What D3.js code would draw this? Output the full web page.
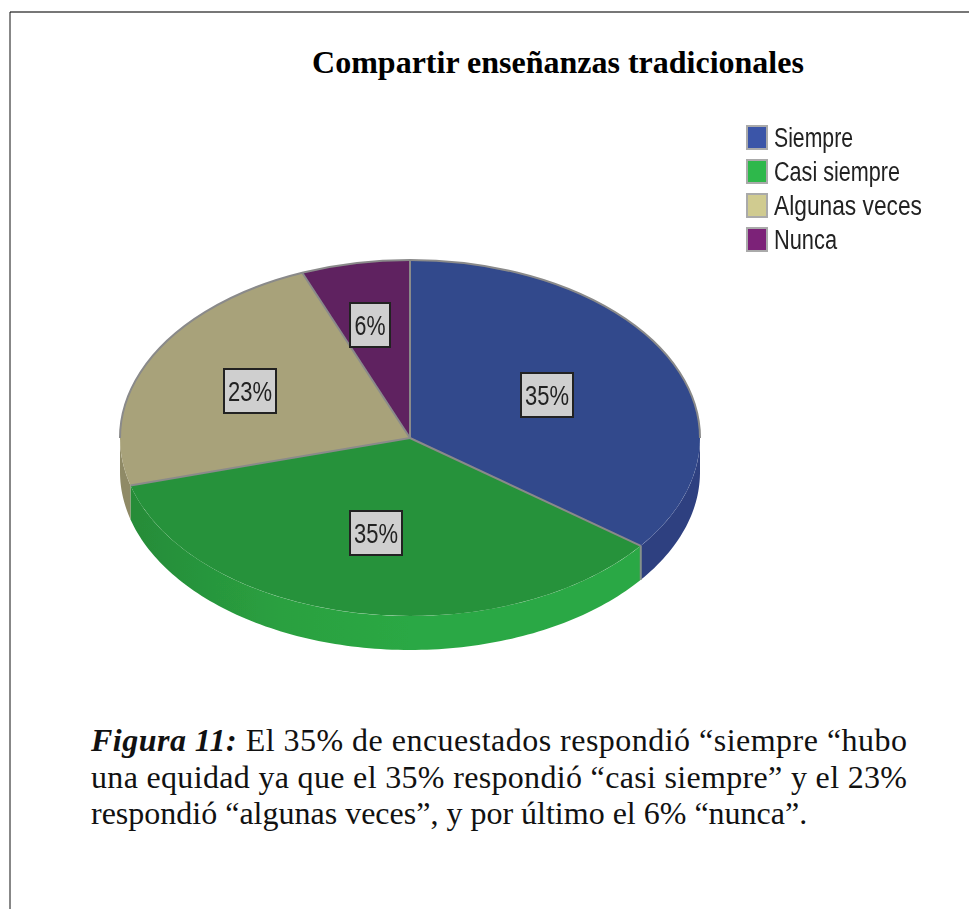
<!DOCTYPE html>
<html>
<head>
<meta charset="utf-8">
<script src="https://cdn.jsdelivr.net/npm/d3@7"></script>
<style>
  html, body { margin: 0; padding: 0; background: #fff; overflow: hidden; }
  svg { display: block; }
</style>
</head>
<body>
<div id="plot-area"></div>
<script>
// Pie chart (tilted, with a rim) of the survey answers

const categories = ["Siempre", "Casi siempre", "Algunas veces", "Nunca"];
const percents = [35, 35, 23, 6];
const title = "Compartir enseñanzas tradicionales";

const w = 969, h = 909;
const svg = d3.select("#plot-area").append("svg").attr("width", w).attr("height", h);

// page frame
svg.append("line").attr("x1", 10).attr("x2", w).attr("y1", 12).attr("y2", 12).
attr("stroke", "#777").attr("stroke-width", 2);
svg.append("line").attr("x1", 10).attr("x2", 10).attr("y1", 12).attr("y2", h).
attr("stroke", "#111").attr("stroke-width", 1);

svg.append("text").
attr("x", 558).
attr("y", 73).
attr("text-anchor", "middle").
attr("font-family", "Liberation Serif").
attr("font-weight", "bold").
attr("font-size", 32).
text(title);

// Pie geometry
const cx = 410, cy = 438, rx = 290, ry = 178, depth = 34;
const topFill = ["#31488c", "#27923b", "#a8a27a", "#5f2060"];
const rimFill = ["#2f4080", "url(#rim-green)", "#8f8a66", "#4c1a4d"];

const defs = svg.append("defs");
const rimGrad = defs.append("linearGradient").
attr("id", "rim-green").
attr("gradientUnits", "userSpaceOnUse").
attr("x1", cx - rx).attr("x2", cx).attr("y1", 0).attr("y2", 0);
rimGrad.append("stop").attr("offset", "0").attr("stop-color", "#258a38");
rimGrad.append("stop").attr("offset", "0.55").attr("stop-color", "#2aa040");
rimGrad.append("stop").attr("offset", "1").attr("stop-color", "#2ca844");

const blur = defs.append("filter").attr("id", "soft");
blur.append("feGaussianBlur").attr("stdDeviation", 0.6);

const pie = d3.pie().sort(null).value(d => d);
const arcs = pie(percents);
const arc = d3.arc().innerRadius(0).outerRadius(rx);

// angle is clockwise from the top, same as d3.pie
const ex = a => cx + rx * Math.sin(a);
const ey = a => cy - ry * Math.cos(a);

// rim, only the front half of the ellipse shows
const rimPath = (a0, a1) => {
  const p = d3.path();
  const s = Math.max(a0, Math.PI / 2), e = Math.min(a1, Math.PI * 1.5);
  if (e <= s) return null;
  p.moveTo(ex(s), ey(s));
  d3.range(s, e, 0.02).concat([e]).forEach(a => p.lineTo(ex(a), ey(a)));
  d3.range(e, s, -0.02).concat([s]).forEach(a => p.lineTo(ex(a), ey(a) + depth));
  p.closePath();
  return p.toString();
};

const chart = svg.append("g").attr("filter", "url(#soft)");

chart.append("g").
selectAll("path").
data(arcs.filter(d => rimPath(d.startAngle, d.endAngle))).
enter().
append("path").
attr("d", d => rimPath(d.startAngle, d.endAngle)).
attr("fill", d => rimFill[d.index]);

// grey edge where the green rim starts on the right
chart.append("line").
attr("x1", ex(arcs[1].startAngle)).attr("x2", ex(arcs[1].startAngle)).
attr("y1", ey(arcs[1].startAngle)).attr("y2", ey(arcs[1].startAngle) + depth).
attr("stroke", "#85918a").attr("stroke-width", 2);

// top face
const face = chart.append("g").
attr("transform", `translate(${cx} ${cy}) scale(1 ${ry / rx})`);

face.selectAll("path.slice").
data(arcs).
enter().
append("path").
attr("class", "slice").
attr("d", arc).
attr("fill", d => topFill[d.index]);

// grey radii between slices, the outer edge only shows on the back half
face.selectAll("line").
data(arcs).
enter().
append("line").
attr("x2", d => rx * Math.sin(d.startAngle)).
attr("y2", d => -rx * Math.cos(d.startAngle)).
attr("stroke", "#8a8a8a").
attr("stroke-width", 2).
attr("vector-effect", "non-scaling-stroke");

face.append("path").
attr("d", d3.arc().innerRadius(rx).outerRadius(rx).startAngle(-Math.PI / 2).endAngle(Math.PI / 2)).
attr("fill", "none").
attr("stroke", "#8a8a8a").
attr("stroke-width", 2).
attr("vector-effect", "non-scaling-stroke");

// value labels
const labelPos = [[547, 395], [376, 533], [250, 391], [370, 325]];
const labels = svg.append("g").
attr("filter", "url(#soft)").
selectAll("g").
data(arcs).
enter().
append("g").
attr("transform", d => `translate(${labelPos[d.index]})`);

labels.append("rect").
attr("x", d => d.data < 10 ? -20 : -26).
attr("y", -22).
attr("width", d => d.data < 10 ? 40 : 52).
attr("height", 44).
attr("fill", "#cfcfcf").
attr("stroke", "#222").
attr("stroke-width", 2);

labels.append("text").
attr("text-anchor", "middle").
attr("y", 10).
attr("font-family", "Liberation Sans").
attr("font-size", 27).
attr("textLength", d => d.data < 10 ? 31 : 44).
attr("lengthAdjust", "spacingAndGlyphs").
attr("fill", "#222").
text(d => d.data + "%");

// legend
const legendY = d3.scalePoint().domain(categories).range([137, 239]);
const legendFill = ["#3a55a8", "#2db84c", "#d0cb90", "#7b2478"];
const legend = svg.append("g").
attr("filter", "url(#soft)").
selectAll("g").
data(categories).
enter().
append("g").
attr("transform", d => `translate(747 ${legendY(d)})`);

legend.append("rect").
attr("y", -11).
attr("width", 20).
attr("height", 23).
attr("fill", (d, i) => legendFill[i]).
attr("stroke", "#aaa").
attr("stroke-width", 2);

legend.append("text").
attr("x", 27).
attr("y", 10).
attr("font-family", "Liberation Sans").
attr("font-size", 27).
attr("fill", "#222").
attr("lengthAdjust", "spacingAndGlyphs").
attr("textLength", (d, i) => [79, 126, 148, 63][i]).
text(d => d);

// caption under the figure
const caption = svg.append("g").
attr("font-family", "Liberation Serif").
attr("font-size", 32).
attr("fill", "#111");

const line1 = caption.append("text").attr("x", 91).attr("y", 751).
attr("textLength", 816).attr("lengthAdjust", "spacing");
line1.append("tspan").attr("font-weight", "bold").attr("font-style", "italic").text("Figura 11:");
line1.append("tspan").text(" El 35% de encuestados respondió “siempre “hubo");

caption.append("text").attr("x", 91).attr("y", 788).
attr("textLength", 816).attr("lengthAdjust", "spacing").
text("una equidad ya que el 35% respondió “casi siempre” y el 23%");

caption.append("text").attr("x", 91).attr("y", 824).
text("respondió “algunas veces”, y por último el 6% “nunca”.");
</script>
</body>
</html>
